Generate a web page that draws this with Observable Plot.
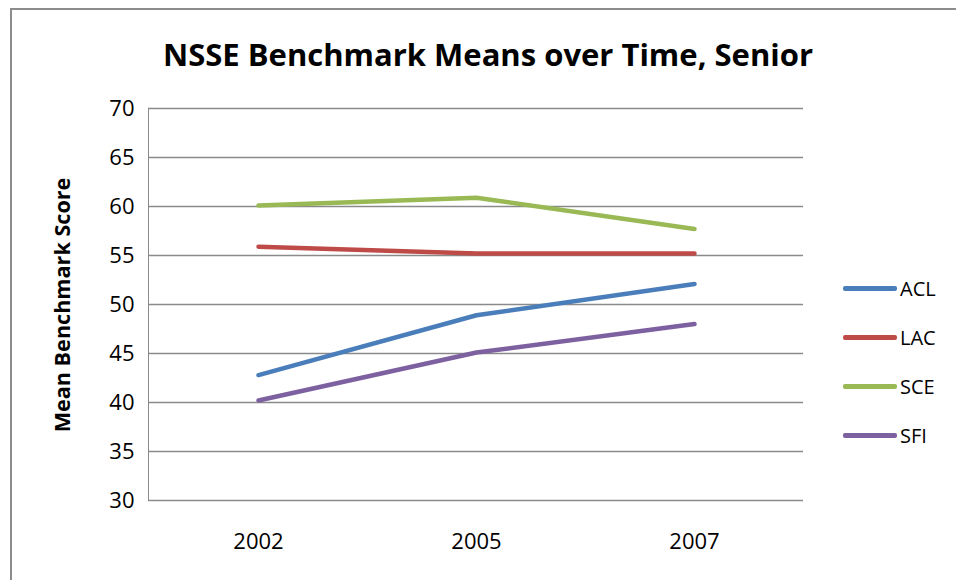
<!DOCTYPE html>
<html>
<head>
<meta charset="utf-8">
<script src="https://cdn.jsdelivr.net/npm/d3@7"></script>
<script src="https://cdn.jsdelivr.net/npm/@observablehq/plot@0.6"></script>
<style>
  html, body { margin: 0; padding: 0; background: #fff; overflow: hidden; }
  #wrap { position: relative; width: 956px; height: 580px; overflow: hidden; font-family: "Open Sans", Lato, sans-serif; }
  #frame { position: absolute; left: 10px; top: 8px; width: 1000px; height: 700px; border: 2px solid #8c8c8c; box-sizing: border-box; }
  #title { position: absolute; left: 0; width: 976px; top: 34px; text-align: center; font-weight: bold; font-size: 31px; line-height: 40px; color: #000; }
  #ytitle { position: absolute; left: 61px; top: 305px; transform: translate(-50%, -50%) rotate(-90deg); font-weight: bold; font-size: 21.6px; white-space: nowrap; }
  #legend { position: absolute; left: 843px; top: 0; }
  .lg { position: absolute; left: 0; display: flex; align-items: center; white-space: nowrap; font-size: 20px; color: #000; }
  .lg span.sw { display: inline-block; width: 54px; height: 5px; border-radius: 2px; margin-right: 3px; }
  #chart { position: absolute; left: 0; top: 0; }
  #chart svg text { fill: #000; }
</style>
</head>
<body>
<div id="wrap">
  <div id="frame"></div>
  <div id="chart"></div>
  <div id="title"></div>
  <div id="ytitle"></div>
  <div id="legend"></div>
</div>
<script>
const years = ["2002", "2005", "2007"];
const seriesNames = ["ACL", "LAC", "SCE", "SFI"];
const ACL = [42.8, 48.9, 52.1];
const LAC = [55.9, 55.2, 55.2];
const SCE = [60.1, 60.9, 57.7];
const SFI = [40.2, 45.1, 48.0];
const colors = ["#4A7EBB", "#BE4B48", "#98B954", "#7D60A0"];
const yTicks = [30, 35, 40, 45, 50, 55, 60, 65, 70];
const titleText = "NSSE Benchmark Means over Time, Senior";
const yLabel = "Mean Benchmark Score";

const values = {ACL, LAC, SCE, SFI};
const data = seriesNames.flatMap(s => years.map((y, i) => ({series: s, year: y, value: values[s][i]})));

const chart = Plot.plot({
  width: 956,
  height: 580,
  marginLeft: 148,
  marginRight: 153,
  marginTop: 108,
  marginBottom: 80,
  style: {fontFamily: "'Open Sans', Lato, sans-serif", fontSize: "22px", color: "#8a8a8a", background: "transparent", overflow: "visible"},
  x: {type: "point", domain: years, padding: 0.5, label: null, tickSize: 0, tickPadding: 33},
  y: {domain: [30, 70], ticks: yTicks, label: null, tickSize: 0, tickPadding: 14, line: true},
  color: {domain: seriesNames, range: colors},
  marks: [
    Plot.ruleY(yTicks, {stroke: "#8a8a8a", strokeWidth: 1.3}),
    Plot.line(data, {x: "year", y: "value", z: "series", stroke: "series", strokeWidth: 4.5, strokeLinecap: "round", strokeLinejoin: "round"})
  ]
});
document.getElementById("chart").appendChild(chart);
document.getElementById("title").textContent = titleText;
document.getElementById("ytitle").textContent = yLabel;

const legendTops = [288, 337, 386, 435];
const legend = document.getElementById("legend");
seriesNames.forEach((s, i) => {
  const row = document.createElement("div");
  row.className = "lg";
  row.style.top = (legendTops[i] - 14) + "px";
  row.style.height = "28px";
  const sw = document.createElement("span");
  sw.className = "sw";
  sw.style.background = colors[i];
  row.appendChild(sw);
  row.appendChild(document.createTextNode(s));
  legend.appendChild(row);
});
</script>
</body>
</html>
